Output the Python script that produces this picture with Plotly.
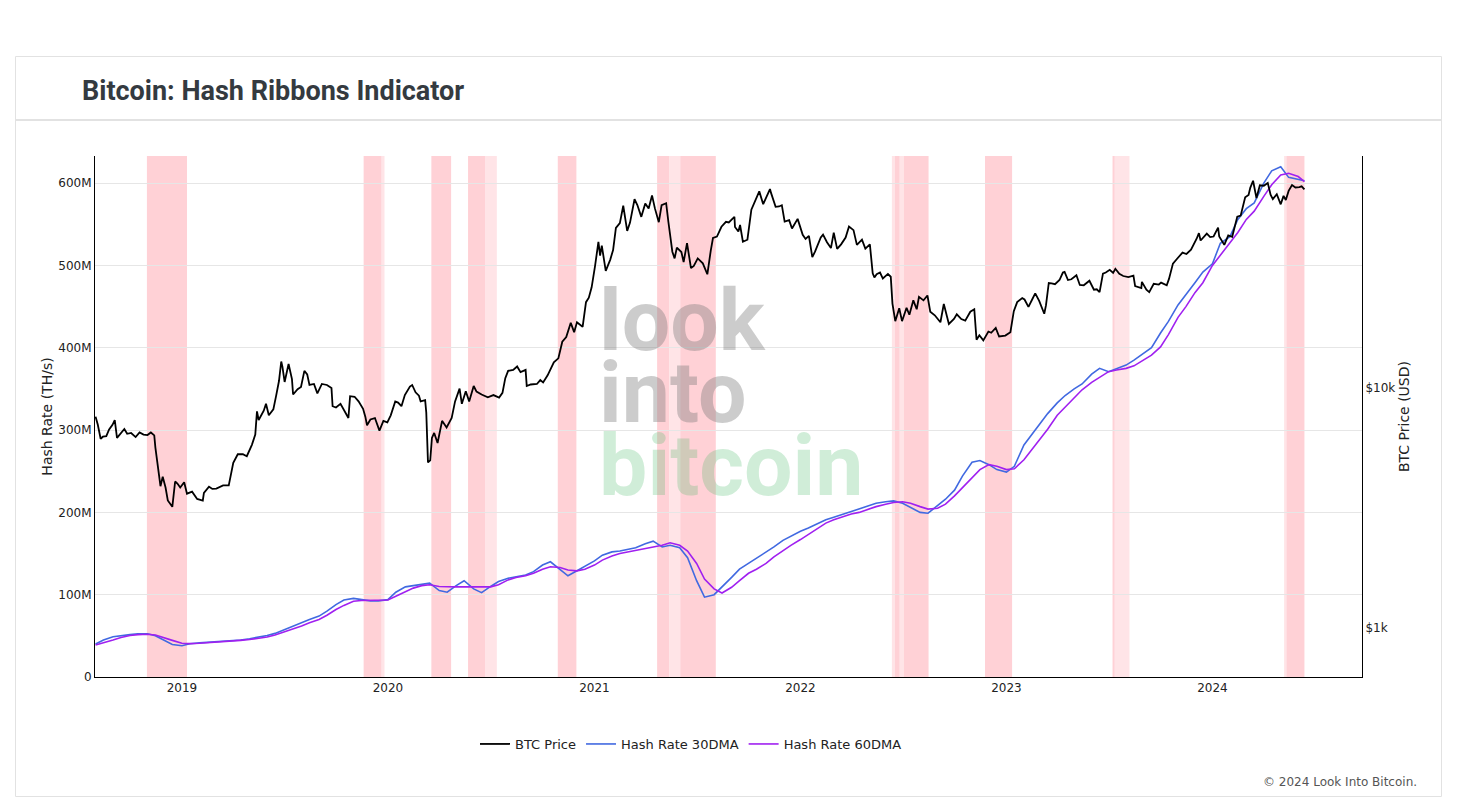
import pandas as pd
import plotly.graph_objects as go

# ---------------- data ----------------
price_dates = [
    "2018-08-01","2018-08-05","2018-08-10","2018-08-14","2018-08-20","2018-08-25","2018-08-31","2018-09-04",
    "2018-09-08","2018-09-15","2018-09-21","2018-09-26","2018-10-03","2018-10-11","2018-10-18","2018-10-25",
    "2018-11-01","2018-11-07","2018-11-13","2018-11-15","2018-11-19","2018-11-24","2018-11-28","2018-12-03",
    "2018-12-07","2018-12-15","2018-12-20","2018-12-24","2018-12-29","2019-01-05","2019-01-10","2019-01-19",
    "2019-01-28","2019-02-07","2019-02-09","2019-02-18","2019-02-24","2019-03-03","2019-03-15","2019-03-25",
    "2019-04-02","2019-04-10","2019-04-19","2019-04-26","2019-05-05","2019-05-11","2019-05-14","2019-05-17",
    "2019-05-26","2019-05-30","2019-06-04","2019-06-12","2019-06-17","2019-06-22","2019-06-26","2019-06-28",
    "2019-07-02","2019-07-09","2019-07-15","2019-07-17","2019-07-25","2019-07-31","2019-08-06","2019-08-11",
    "2019-08-15","2019-08-23","2019-08-29","2019-09-06","2019-09-15","2019-09-23","2019-09-25","2019-10-01",
    "2019-10-09","2019-10-16","2019-10-23","2019-10-26","2019-11-03","2019-11-10","2019-11-18","2019-11-22",
    "2019-11-25","2019-12-01","2019-12-09","2019-12-17","2019-12-24","2019-12-31","2020-01-06","2020-01-14",
    "2020-01-19","2020-01-25","2020-01-31","2020-02-09","2020-02-13","2020-02-19","2020-02-25","2020-02-28",
    "2020-03-07","2020-03-09","2020-03-12","2020-03-16","2020-03-19","2020-03-23","2020-03-29","2020-04-06",
    "2020-04-14","2020-04-23","2020-04-29","2020-05-07","2020-05-11","2020-05-18","2020-05-24","2020-06-01",
    "2020-06-06","2020-06-15","2020-06-26","2020-07-06","2020-07-16","2020-07-22","2020-07-27","2020-08-01",
    "2020-08-10","2020-08-17","2020-08-23","2020-09-01","2020-09-03","2020-09-10","2020-09-21","2020-09-27",
    "2020-10-02","2020-10-10","2020-10-21","2020-10-29","2020-11-05","2020-11-12","2020-11-20","2020-11-26",
    "2020-12-01","2020-12-11","2020-12-17","2020-12-22","2020-12-27","2021-01-02","2021-01-08","2021-01-11",
    "2021-01-14","2021-01-21","2021-01-29","2021-02-03","2021-02-08","2021-02-15","2021-02-21","2021-02-28",
    "2021-03-05","2021-03-13","2021-03-18","2021-03-25","2021-04-01","2021-04-07","2021-04-13","2021-04-18",
    "2021-04-25","2021-04-30","2021-05-08","2021-05-12","2021-05-19","2021-05-23","2021-05-27","2021-06-04",
    "2021-06-08","2021-06-14","2021-06-21","2021-06-26","2021-07-03","2021-07-12","2021-07-20","2021-07-26",
    "2021-07-30","2021-08-06","2021-08-14","2021-08-22","2021-08-27","2021-09-06","2021-09-07","2021-09-13",
    "2021-09-16","2021-09-21","2021-09-29","2021-10-06","2021-10-15","2021-10-20","2021-10-27","2021-11-02",
    "2021-11-08","2021-11-10","2021-11-18","2021-11-24","2021-11-29","2021-12-04","2021-12-12","2021-12-17",
    "2021-12-27","2022-01-05","2022-01-10","2022-01-16","2022-01-22","2022-01-27","2022-02-06","2022-02-10",
    "2022-02-17","2022-02-24","2022-03-01","2022-03-07","2022-03-14","2022-03-22","2022-03-28","2022-04-05",
    "2022-04-11","2022-04-20","2022-04-26","2022-05-04","2022-05-09","2022-05-12","2022-05-16","2022-05-22",
    "2022-05-27","2022-06-05","2022-06-10","2022-06-13","2022-06-18","2022-06-25","2022-06-30","2022-07-08",
    "2022-07-13","2022-07-20","2022-07-26","2022-07-30","2022-08-07","2022-08-14","2022-08-19","2022-08-27",
    "2022-09-06","2022-09-12","2022-09-18","2022-09-21","2022-09-30","2022-10-05","2022-10-13","2022-10-20",
    "2022-10-29","2022-11-05","2022-11-09","2022-11-14","2022-11-21","2022-11-30","2022-12-05","2022-12-13",
    "2022-12-19","2022-12-30","2023-01-08","2023-01-14","2023-01-20","2023-01-29","2023-02-02","2023-02-09",
    "2023-02-16","2023-02-21","2023-02-28","2023-03-09","2023-03-12","2023-03-17","2023-03-22","2023-03-28",
    "2023-04-05","2023-04-11","2023-04-14","2023-04-20","2023-04-26","2023-05-05","2023-05-11","2023-05-18",
    "2023-05-28","2023-06-05","2023-06-10","2023-06-15","2023-06-21","2023-06-26","2023-07-03","2023-07-09",
    "2023-07-13","2023-07-20","2023-07-27","2023-08-05","2023-08-14","2023-08-17","2023-08-28","2023-08-29",
    "2023-09-06","2023-09-11","2023-09-19","2023-09-28","2023-10-02","2023-10-12","2023-10-16","2023-10-23",
    "2023-10-30","2023-11-09","2023-11-16","2023-11-24","2023-12-04","2023-12-08","2023-12-11","2023-12-18",
    "2023-12-22","2023-12-28","2024-01-03","2024-01-11","2024-01-13","2024-01-22","2024-01-29","2024-02-05",
    "2024-02-14","2024-02-20","2024-02-28","2024-03-05","2024-03-08","2024-03-13","2024-03-19","2024-03-25",
    "2024-04-01","2024-04-08","2024-04-13","2024-04-17","2024-04-24","2024-05-01","2024-05-06","2024-05-10",
    "2024-05-15","2024-05-21","2024-05-27","2024-06-03","2024-06-07","2024-06-12",
]
price_values = [
    7600,7030,6150,6270,6300,6720,7030,7360,
    6200,6520,6750,6450,6500,6250,6530,6400,
    6370,6530,6350,5650,4800,3900,4270,3850,
    3400,3200,4080,4000,3850,4050,3630,3700,
    3450,3400,3660,3880,3800,3810,3930,3930,
    4880,5300,5300,5200,5800,6400,8000,7360,
    8050,8600,7700,8150,9300,10700,12900,12300,
    10600,12600,10900,9400,9900,10100,11800,11400,
    10300,10400,9500,10400,10300,10000,8400,8300,
    8600,8000,7500,9250,9200,8800,8200,7600,
    7000,7400,7500,6650,7300,7200,7700,8800,
    8700,8400,9350,10150,10300,9600,9300,8800,
    8900,7900,4900,5000,6200,6500,5900,7300,
    6850,7500,8800,9950,8600,9700,8800,10200,
    9670,9400,9150,9350,9130,9550,11000,11800,
    11900,12300,11650,11900,10200,10350,10400,10800,
    10550,11300,12800,13300,15600,16300,18700,17100,
    18800,18000,22800,23800,26300,32200,40700,35600,
    39200,30800,34300,37600,46500,48700,57500,45200,
    48900,61200,57900,51700,58700,56000,63500,56200,
    49100,57800,58900,49200,37000,34700,38500,36900,
    33500,40200,31600,32300,34700,33100,29800,37300,
    42200,42800,47000,49300,49000,51700,46900,44900,
    47800,40700,41500,55400,61600,66000,58400,63300,
    67500,64900,56900,57100,57800,49400,50100,46200,
    50700,43500,41800,43100,35100,37100,42400,43600,
    40500,38300,44400,38000,39700,42400,47100,45500,
    39500,41500,38100,39700,30100,28900,29800,30300,
    28600,29900,29100,22500,19000,21500,19000,21600,
    20200,23200,21300,24000,23200,24300,20800,20100,
    18800,22400,19400,18500,19400,20300,19400,19100,
    20800,21300,15900,16600,15800,17200,17000,17800,
    16400,16550,17100,20900,22800,23700,23400,21800,
    23500,24800,23100,20400,22100,27400,27300,27100,
    28200,30300,30500,28200,28400,29500,26900,26800,
    28000,25700,25800,25100,30000,30300,31100,30200,
    31400,29900,29300,29000,29400,26600,26100,27700,
    25700,25100,27200,27000,27500,26800,28500,33000,
    34500,36700,36200,37700,41900,44200,41200,42700,
    44000,42600,42800,46600,42800,39500,43300,42700,
    51800,52300,62400,63800,68300,73100,61900,70000,
    69700,71600,63900,61300,64200,58300,63200,60800,
    66300,70100,68500,68800,69300,67300,
]

hr_dates = list(pd.date_range("2018-08-01", "2024-06-01", freq="SMS").strftime("%Y-%m-%d")) + ["2024-06-12"]

hash_rate_30dma = [
    # 2018 Aug-Dec
    40e6, 45e6, 49e6, 50.5e6, 51.5e6, 52.5e6, 52.5e6, 50e6, 44e6, 39.5e6,
    # 2019
    38e6, 40.5e6, 41.5e6, 42e6, 43e6, 43.5e6, 44.5e6, 45e6, 46.5e6, 48e6, 50.5e6, 53e6,
    57.5e6, 62e6, 67e6, 70e6, 74e6, 80e6, 88e6, 93.5e6, 95.5e6, 94e6, 92.5e6, 92.5e6,
    # 2020
    94e6, 103e6, 109.5e6, 111e6, 113e6, 114e6, 105e6, 103e6, 111e6, 117e6, 107e6, 102.5e6,
    110e6, 116e6, 120e6, 122e6, 124e6, 128e6, 136e6, 140e6, 131e6, 123e6, 129e6, 134e6,
    # 2021
    141e6, 148e6, 152e6, 153e6, 155e6, 157e6, 162e6, 165e6, 158e6, 160e6, 157e6, 145e6,
    117e6, 97e6, 100e6, 109e6, 121e6, 131e6, 138e6, 145e6, 152e6, 158e6, 166e6, 171e6,
    # 2022
    177e6, 181e6, 186e6, 191e6, 194e6, 197e6, 201e6, 204e6, 208e6, 211e6, 213e6, 214e6,
    211e6, 206e6, 200e6, 199e6, 208e6, 216e6, 227e6, 244e6, 261e6, 263e6, 258e6, 252e6,
    # 2023
    249e6, 256e6, 282e6, 295e6, 307e6, 320e6, 333e6, 342e6, 350e6, 356e6, 368e6, 375e6,
    371e6, 375e6, 379e6, 385e6, 393e6, 400e6, 418e6, 432e6, 452e6, 464e6, 479e6, 492e6,
    # 2024 Jan-Jun
    502e6, 527e6, 535e6, 556e6, 569e6, 576e6, 600e6, 615e6, 620e6, 607e6, 605e6, 603e6,
]

hash_rate_60dma = [
    # 2018 Aug-Dec
    39e6, 41.5e6, 45e6, 48e6, 50.5e6, 51.5e6, 52e6, 51e6, 48e6, 44.5e6,
    # 2019
    41e6, 40.5e6, 41e6, 41.5e6, 42.5e6, 43e6, 44e6, 44.5e6, 45.5e6, 46.5e6, 48.5e6, 51e6,
    54.5e6, 58e6, 62e6, 66e6, 70e6, 75e6, 82e6, 87e6, 92e6, 93e6, 93e6, 93e6,
    # 2020
    93.5e6, 98e6, 104e6, 108e6, 111e6, 112e6, 110e6, 109.5e6, 109.5e6, 109.5e6, 109.5e6, 109.5e6,
    109.5e6, 112e6, 118e6, 121e6, 123e6, 126e6, 131e6, 134e6, 133e6, 130e6, 129e6, 131e6,
    # 2021
    136e6, 142e6, 147e6, 150e6, 152e6, 154e6, 156e6, 158e6, 160e6, 163e6, 160e6, 153e6,
    138e6, 119e6, 107e6, 102e6, 109e6, 117e6, 126e6, 131e6, 138e6, 146e6, 154e6, 160e6,
    # 2022
    167e6, 173e6, 180e6, 187e6, 191e6, 194e6, 198e6, 200e6, 204e6, 207e6, 210e6, 212e6,
    213e6, 211e6, 207e6, 204e6, 205e6, 210e6, 220e6, 230e6, 243e6, 252e6, 258e6, 256e6,
    # 2023
    252e6, 253e6, 264e6, 276e6, 288e6, 301e6, 318e6, 328e6, 340e6, 349e6, 358e6, 364e6,
    371e6, 373e6, 375e6, 378e6, 385e6, 391e6, 401e6, 416e6, 437e6, 450e6, 467e6, 479e6,
    # 2024 Jan-Jun
    500e6, 512e6, 527e6, 540e6, 556e6, 566e6, 584e6, 598e6, 610e6, 612e6, 608e6, 602e6,
]

band_starts = ["2018-10-31","2019-11-19","2019-12-21","2020-03-18","2020-05-22","2020-06-22","2020-10-28",
               "2021-04-22","2021-05-14","2021-06-02","2022-06-12","2022-06-17","2022-06-26","2022-07-03",
               "2022-11-24","2023-07-08","2023-07-12","2024-05-07","2024-05-11"]
band_ends   = ["2019-01-10","2019-12-21","2019-12-26","2020-04-22","2020-06-22","2020-07-12","2020-11-30",
               "2021-05-14","2021-06-02","2021-08-04","2022-06-17","2022-06-26","2022-07-03","2022-08-16",
               "2023-01-11","2023-07-12","2023-08-07","2024-05-11","2024-06-12"]
band_kinds  = ["main","main","light","main","main","light","main",
               "main","light","main","light","main","light","main",
               "main","main","light","light","main"]

price_tick_vals = [1000, 10000]
price_tick_text = ["$1k", "$10k"]

# ---------------- figure ----------------
# the page body adds an 8px offset; the figure is sized so the plot area
# lands on screen at x 95..1362, y 156..677
OFF = 8
W, H = 1458 - OFF, 801 - OFF
L, R, T, B = 95 - OFF, 96, 156 - OFF, 124
pw, ph = W - L - R, H - T - B
SCR_L, SCR_B = 95, 677


def px(xs):
    return (xs - SCR_L) / pw


def py(ys):
    return (SCR_B - ys) / ph


fig = go.Figure()

fig.add_trace(go.Scatter(x=price_dates, y=price_values, name="BTC Price", yaxis="y2",
                         mode="lines", line=dict(color="#000000", width=1.8)))
fig.add_trace(go.Scatter(x=hr_dates, y=hash_rate_30dma, name="Hash Rate 30DMA",
                         mode="lines", line=dict(color="#4169e1", width=1.6)))
fig.add_trace(go.Scatter(x=hr_dates, y=hash_rate_60dma, name="Hash Rate 60DMA",
                         mode="lines", line=dict(color="#a020f0", width=1.6)))

band_colors = {"main": "#ffd1d6", "light": "#ffe4e7"}
shapes = []
for s, e, k in zip(band_starts, band_ends, band_kinds):
    shapes.append(dict(type="rect", xref="x", yref="paper", x0=s, x1=e, y0=0, y1=1,
                       fillcolor=band_colors[k], line=dict(width=0), layer="below"))

# card frame and header divider
shapes.append(dict(type="rect", xref="paper", yref="paper", x0=px(15.5), x1=px(1441.5),
                   y0=py(796.5), y1=py(56.5), line=dict(color="#e2e2e2", width=1),
                   fillcolor="rgba(0,0,0,0)", layer="below"))
shapes.append(dict(type="line", xref="paper", yref="paper", x0=px(15.5), x1=px(1441.5),
                   y0=py(120), y1=py(120), line=dict(color="#e2e2e2", width=2), layer="below"))

wm_font = "Roboto"
wm_size = 86
annotations = [
    dict(text="<b>Bitcoin: Hash Ribbons Indicator</b>", xref="paper", yref="paper",
         x=px(80), y=py(91), xanchor="left", yanchor="middle", showarrow=False,
         font=dict(family="Roboto", size=27, color="#343a40")),
    dict(text="<b>look</b>", xref="paper", yref="paper", x=px(597), y=py(320),
         xanchor="left", yanchor="middle", showarrow=False,
         font=dict(family=wm_font, size=wm_size, color="rgba(120,120,120,0.38)")),
    dict(text="<b>into</b>", xref="paper", yref="paper", x=px(597), y=py(392),
         xanchor="left", yanchor="middle", showarrow=False,
         font=dict(family=wm_font, size=wm_size, color="rgba(120,120,120,0.38)")),
    dict(text="<b>bitcoin</b>", xref="paper", yref="paper", x=px(597), y=py(465),
         xanchor="left", yanchor="middle", showarrow=False,
         font=dict(family=wm_font, size=wm_size, color="rgba(60,180,90,0.24)")),
    dict(text="© 2024 Look Into Bitcoin.", xref="paper", yref="paper", x=px(1419), y=py(782),
         xanchor="right", yanchor="middle", showarrow=False,
         font=dict(family="DejaVu Sans", size=12, color="#555555")),
]

fig.update_layout(
    width=W, height=H,
    margin=dict(l=L, r=R, t=T, b=B),
    paper_bgcolor="white", plot_bgcolor="white",
    font=dict(family="DejaVu Sans", size=12, color="#222222"),
    showlegend=True,
    legend=dict(orientation="h", x=px(475), xanchor="left", y=py(744), yanchor="middle",
                font=dict(family="DejaVu Sans", size=13, color="#222222"), bgcolor="rgba(0,0,0,0)"),
    xaxis=dict(type="date", range=["2018-07-31", "2024-09-22"], showgrid=False, showline=True,
               linecolor="#000000", linewidth=1, ticks="", dtick="M12", tickformat="%Y",
               tickfont=dict(size=12, color="#222222"), zeroline=False),
    yaxis=dict(title=dict(text="Hash Rate (TH/s)", font=dict(size=14, color="#222222"), standoff=2),
               range=[0, 633e6], dtick=100e6, showgrid=True, gridcolor="#e6e6e6",
               showline=True, linecolor="#000000", linewidth=1, zeroline=False, ticks="",
               tickfont=dict(size=12, color="#222222")),
    yaxis2=dict(title=dict(text="BTC Price (USD)", font=dict(size=14, color="#222222"), standoff=4),
                type="log", range=[2.796, 4.967], overlaying="y", side="right",
                tickvals=price_tick_vals, ticktext=price_tick_text, showgrid=False,
                showline=True, linecolor="#000000", linewidth=1, zeroline=False, ticks="",
                tickfont=dict(size=12, color="#222222")),
    shapes=shapes,
    annotations=annotations,
)

fig.write_html("out.html")
